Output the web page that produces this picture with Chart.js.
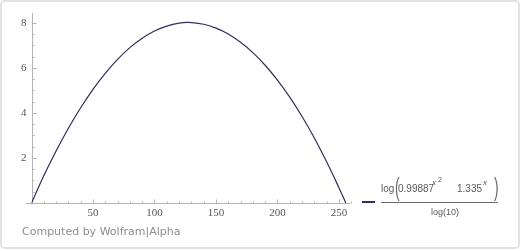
<!DOCTYPE html>
<html>
<head>
<meta charset="utf-8">
<script src="https://cdn.jsdelivr.net/npm/chart.js@4"></script>
<style>
  html, body { margin: 0; padding: 0; background: #fff; }
  #wrap { position: relative; width: 521px; height: 251px; overflow: hidden; }
  #frame { position: absolute; left: 0; top: 0; width: 520px; height: 249px; box-sizing: border-box;
           border: 2px solid #e2e2e2; border-radius: 5px; }
  #box { position: absolute; left: 0; top: 0; width: 521px; height: 251px; }
  .credit { position: absolute; left: 22px; top: 225px; font: 11px "DejaVu Sans", sans-serif; color: #8c8c8c; }
  .key { position: absolute; left: 362px; top: 201px; width: 13px; height: 2px; background: #2f2e5c; }
  .frac { position: absolute; font-family: "Liberation Sans", Arial, sans-serif; color: #5a5a5a; white-space: nowrap; line-height: 1; }
  .bar { position: absolute; left: 381px; top: 202px; width: 117px; height: 1px; background: #6a6a6a; }
  .paren { position: absolute; top: 175px; font: 25px/1 "Liberation Sans", sans-serif; color: #6a6a6a;
           transform: scaleX(0.55); transform-origin: left top; }
</style>
</head>
<body>
<div id="wrap">
  <div id="frame"></div>
  <div id="box"><canvas id="plot"></canvas></div>
  <div class="key"></div>
  <div class="frac" style="left:381px; top:184px; font-size:10px;">log</div>
  <div class="paren" style="left:395px;">(</div>
  <div class="frac" style="left:398px; top:184px; font-size:10px;">0.99887</div>
  <div class="frac" style="left:432px; top:179px; font-size:8px; font-style:italic;">x</div>
  <div class="frac" style="left:438px; top:176px; font-size:7px;">2</div>
  <div class="frac" style="left:457px; top:184px; font-size:10px;">1.335</div>
  <div class="frac" style="left:483px; top:179px; font-size:8px; font-style:italic;">x</div>
  <div class="paren" style="left:494px;">)</div>
  <div class="bar"></div>
  <div class="frac" style="left:431px; top:208px; font-size:9px;">log(10)</div>
  <div class="credit">Computed by Wolfram|Alpha</div>
</div>
<script>
const xValues = [0, 10, 20, 30, 40, 50, 60, 70, 80, 90, 100, 110, 120, 128, 140, 150, 160, 170, 180, 190, 200, 210, 220, 230, 240, 250, 255.6];
const yValues = [0, 1.21, 2.31, 3.32, 4.23, 5.05, 5.76, 6.38, 6.90, 7.32, 7.64, 7.86, 7.99, 8.02, 7.94, 7.77, 7.51, 7.14, 6.68, 6.12, 5.46, 4.70, 3.84, 2.89, 1.83, 0.68, 0];
const xTicks = [50, 100, 150, 200, 250];
const yTicks = [2, 4, 6, 8];
const xMinor = [10, 20, 30, 40, 60, 70, 80, 90, 110, 120, 130, 140, 160, 170, 180, 190, 210, 220, 230, 240, 260];
const yMinor = [0.5, 1, 1.5, 2.5, 3, 3.5, 4.5, 5, 5.5, 6.5, 7, 7.5];

const points = xValues.map((x, i) => ({ x: x, y: yValues[i] }));

// axis lines and inward tick marks, Wolfram style
const axesPlugin = {
    id: "axes",
    beforeDatasetsDraw(chart) {
        const ctx = chart.ctx;
        const xs = chart.scales.x, ys = chart.scales.y;
        const ox = Math.round(xs.getPixelForValue(0)) + 0.5;
        const oy = Math.round(ys.getPixelForValue(0)) + 0.5;
        ctx.save();
        ctx.strokeStyle = "#b4b4b4";
        ctx.lineWidth = 1;
        ctx.beginPath();
        ctx.moveTo(ox - 7, oy); ctx.lineTo(chart.chartArea.right, oy);
        ctx.moveTo(ox, chart.chartArea.top); ctx.lineTo(ox, oy + 1);
        xTicks.forEach(v => { const p = Math.round(xs.getPixelForValue(v)) + 0.5; ctx.moveTo(p, oy); ctx.lineTo(p, oy - 4); });
        xMinor.forEach(v => { const p = Math.round(xs.getPixelForValue(v)) + 0.5; ctx.moveTo(p, oy); ctx.lineTo(p, oy - 2); });
        yTicks.forEach(v => { const p = Math.round(ys.getPixelForValue(v)) + 0.5; ctx.moveTo(ox, p); ctx.lineTo(ox + 4, p); });
        yMinor.forEach(v => { const p = Math.round(ys.getPixelForValue(v)) + 0.5; ctx.moveTo(ox, p); ctx.lineTo(ox + 2, p); });
        ctx.stroke();
        ctx.restore();
    }
};

new Chart(document.getElementById("plot"), {
    type: "scatter",
    data: {
        datasets: [{
            data: points,
            showLine: true,
            borderColor: "#2f2e5c",
            borderWidth: 1.2,
            pointRadius: 0,
            tension: 0.4,
            fill: false
        }]
    },
    options: {
        responsive: true,
        maintainAspectRatio: false,
        animation: false,
        layout: { padding: { left: 0, top: 13, right: 171, bottom: 28 } },
        plugins: { legend: { display: false }, tooltip: { enabled: false } },
        scales: {
            x: {
                type: "linear", min: 0, max: 259,
                afterBuildTicks: s => { s.ticks = xTicks.map(v => ({ value: v })); },
                afterFit: s => { s.height = 20; },
                grid: { display: false, drawTicks: false },
                border: { display: false },
                ticks: { padding: 4, color: "#555", font: { family: "'Liberation Serif', serif", size: 11 } }
            },
            y: {
                type: "linear", min: 0, max: 8.44,
                afterBuildTicks: s => { s.ticks = yTicks.map(v => ({ value: v })); },
                afterFit: s => { s.width = 31.5; },
                grid: { display: false, drawTicks: false },
                border: { display: false },
                ticks: { padding: 5, color: "#555", font: { family: "'Liberation Serif', serif", size: 11 } }
            }
        }
    },
    plugins: [axesPlugin]
});
</script>
</body>
</html>
